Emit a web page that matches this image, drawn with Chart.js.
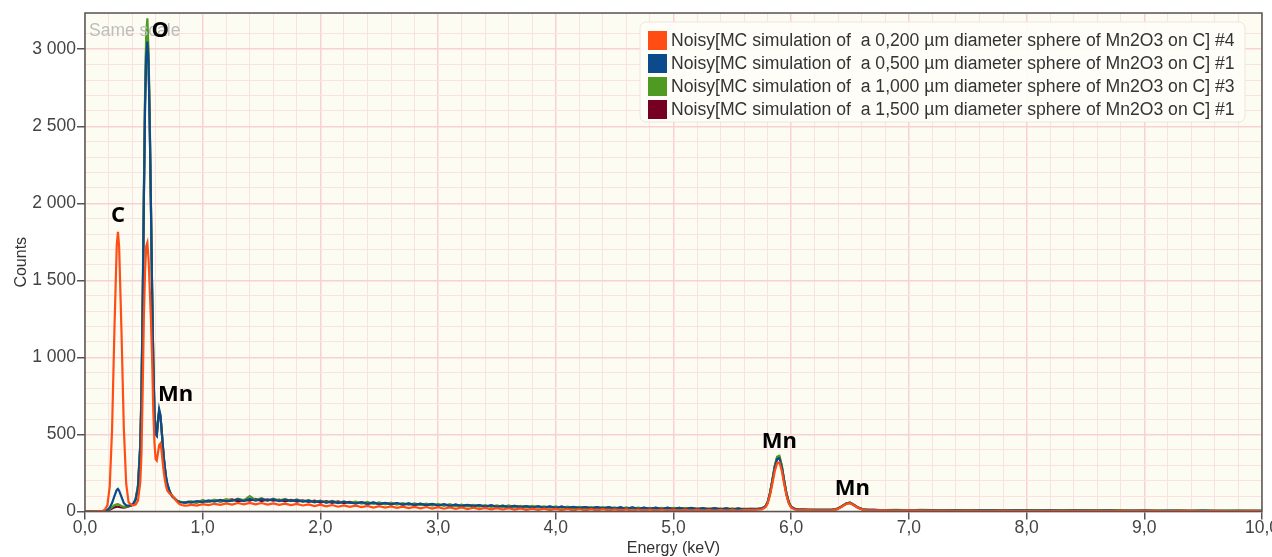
<!DOCTYPE html>
<html>
<head>
<meta charset="utf-8">
<script src="https://cdn.jsdelivr.net/npm/chart.js@4.4.1/dist/chart.umd.min.js"></script>
<style>
  html, body { margin: 0; padding: 0; background: #fff; overflow: hidden; width: 1272px; height: 557px; }
</style>
</head>
<body>
<!-- canvas a bit wider than the window so the "10,0" label is cut at the edge like the original -->
<canvas id="my_graph" width="1279" height="557"></canvas>
<script>
// channel energies (keV), finer around the peaks
const energy = [
  0, 0.05, 0.10, 0.15, 0.17, 0.19, 0.21, 0.23, 0.25, 0.27,
  0.28, 0.29, 0.31, 0.33, 0.35, 0.37, 0.39, 0.41, 0.43, 0.45,
  0.47, 0.48, 0.49, 0.50, 0.51, 0.52, 0.53, 0.54, 0.55, 0.56,
  0.57, 0.58, 0.59, 0.60, 0.61, 0.62, 0.63, 0.64, 0.65, 0.66,
  0.67, 0.68, 0.69, 0.70, 0.72, 0.74, 0.76, 0.78, 0.80, 0.82,
  0.85, 0.88,
  0.90, 0.95, 1.00, 1.05, 1.10, 1.15, 1.20, 1.25, 1.30, 1.35,
  1.40, 1.45, 1.50, 1.55, 1.60, 1.65, 1.70, 1.75, 1.80, 1.85,
  1.90, 1.95, 2.00, 2.05, 2.10, 2.15, 2.20, 2.25, 2.30, 2.35,
  2.40, 2.45, 2.50, 2.55, 2.60, 2.65, 2.70, 2.75, 2.80, 2.85,
  2.90, 2.95, 3.00, 3.05, 3.10, 3.15, 3.20, 3.25, 3.30, 3.35,
  3.40, 3.45, 3.50, 3.55, 3.60, 3.65, 3.70, 3.75, 3.80, 3.85,
  3.90, 3.95, 4.00, 4.05, 4.10, 4.15, 4.20, 4.25, 4.30, 4.35,
  4.40, 4.45, 4.50, 4.55, 4.60, 4.65, 4.70, 4.75, 4.80, 4.85,
  4.90, 4.95, 5.00, 5.05, 5.10, 5.15, 5.20, 5.25, 5.30, 5.35,
  5.40, 5.45, 5.50, 5.55, 5.60,
  5.63, 5.66, 5.69, 5.72, 5.75, 5.78, 5.80, 5.82, 5.84, 5.86, 5.88,
  5.90, 5.92, 5.94, 5.96, 5.98, 6.00, 6.03, 6.06, 6.10, 6.15, 6.20,
  6.25, 6.30, 6.35, 6.39, 6.43, 6.47, 6.50, 6.53, 6.57, 6.61, 6.65, 6.70, 6.75,
  6.8, 6.9, 7.0, 7.1, 7.2, 7.3, 7.4, 7.5, 7.6, 7.7,
  7.8, 7.9, 8.0, 8.1, 8.2, 8.3, 8.4, 8.5, 8.6, 8.7,
  8.8, 8.9, 9.0, 9.1, 9.2, 9.3, 9.4, 9.5, 9.6, 9.7,
  9.8, 9.9, 10.0
];

const counts0200 = [
  0, 0, 2, 5, 12, 40, 160, 530, 1180, 1730,
  1815, 1720, 1170, 540, 180, 60, 45, 40, 45, 70,
  190, 380, 780, 1250, 1550, 1720, 1745, 1640, 1450, 1250,
  1000, 660, 450, 340, 330, 380, 430, 440, 400, 320,
  250, 200, 160, 135, 115, 105, 85, 65, 50, 42,
  38, 40,
  44, 38, 48, 41, 50, 43, 53, 45, 55, 47,
  56, 46, 55, 45, 53, 43, 51, 41, 49, 39,
  46, 35, 44, 33, 42, 31, 40, 30, 38, 29,
  36, 26, 35, 25, 33, 24, 32, 22, 30, 21,
  29, 19, 28, 18, 27, 17, 26, 16, 25, 15,
  23, 14, 22, 13, 21, 12, 20, 11, 19, 11,
  18, 9, 17, 9, 16, 8, 16, 8, 15, 7,
  15, 7, 14, 7, 14, 6, 13, 6, 13, 6,
  13, 6, 12, 5, 12, 5, 12, 5, 11, 5,
  11, 5, 11, 5, 10,
  10, 11, 10, 12, 14, 26, 52, 106, 180, 260, 312,
  318, 265, 180, 104, 52, 25, 13, 10, 9, 9, 8,
  8, 8, 9, 14, 31, 50, 54, 42, 22, 11, 8, 7, 7,
  7, 6, 7, 6, 6, 6, 5, 6, 5, 5,
  6, 5, 5, 4, 5, 5, 4, 5, 4, 4,
  5, 4, 4, 4, 3, 4, 4, 3, 4, 3,
  3, 4, 3
];

const counts0500 = [
  0, 0, 1, 3, 5, 10, 25, 55, 100, 140,
  147, 135, 95, 55, 40, 38, 40, 50, 80, 150,
  420, 750, 1300, 2000, 2600, 2950, 3050, 2900, 2500, 2000,
  1450, 980, 650, 500, 490, 590, 665, 630, 540, 440,
  350, 280, 220, 180, 130, 100, 85, 70, 62, 60,
  58, 62,
  58, 68, 61, 72, 64, 75, 66, 70, 79, 68,
  82, 70, 80, 72, 78, 67, 76, 69, 74, 64,
  71, 60, 68, 57, 66, 55, 63, 58, 52, 61,
  50, 59, 48, 56, 46, 55, 45, 52, 43, 51,
  41, 49, 39, 47, 37, 45, 36, 43, 35, 41,
  32, 40, 31, 38, 29, 37, 28, 35, 27, 34,
  25, 33, 24, 31, 23, 30, 22, 29, 21, 28,
  20, 28, 19, 27, 18, 26, 18, 25, 17, 25,
  16, 25, 16, 24, 15, 23, 15, 22, 14, 22,
  14, 21, 13, 20, 14,
  17, 16, 17, 17, 19, 31, 58, 116, 198, 284, 340,
  345, 288, 198, 114, 58, 29, 17, 13, 12, 11, 11,
  11, 11, 11, 16, 33, 52, 56, 44, 24, 13, 11, 10, 9,
  9, 8, 9, 8, 9, 7, 8, 8, 7, 8,
  7, 7, 8, 6, 7, 6, 7, 6, 6, 7,
  5, 6, 6, 5, 6, 5, 5, 6, 5, 5,
  4, 5, 5
];

const counts1000 = [
  0, 0, 1, 2, 4, 8, 16, 28, 40, 46,
  48, 44, 36, 30, 32, 35, 40, 48, 78, 170,
  450, 800, 1380, 2080, 2700, 3100, 3200, 2980, 2560, 2020,
  1460, 990, 660, 510, 500, 590, 650, 625, 545, 440,
  345, 275, 215, 175, 128, 100, 86, 72, 64, 62,
  60, 64,
  66, 60, 73, 63, 77, 66, 80, 70, 84, 72,
  100, 74, 86, 70, 84, 71, 81, 68, 79, 66,
  74, 62, 71, 58, 69, 56, 66, 54, 64, 52,
  62, 49, 59, 47, 57, 45, 55, 43, 53, 42,
  51, 39, 49, 37, 47, 35, 45, 34, 43, 32,
  42, 30, 40, 29, 39, 27, 37, 26, 36, 25,
  34, 24, 33, 23, 32, 22, 30, 21, 29, 20,
  28, 19, 27, 18, 26, 18, 25, 17, 24, 16,
  24, 16, 23, 15, 22, 15, 21, 14, 21, 14,
  20, 13, 20, 13, 19,
  16, 17, 16, 18, 20, 33, 62, 122, 205, 295, 355,
  362, 300, 205, 118, 60, 30, 18, 14, 12, 12, 11,
  11, 10, 12, 17, 34, 54, 58, 45, 24, 14, 10, 9, 9,
  9, 10, 8, 10, 9, 8, 9, 7, 9, 8,
  7, 8, 7, 8, 6, 7, 7, 6, 7, 6,
  7, 5, 6, 6, 5, 6, 5, 6, 5, 5,
  6, 5, 5
];

const counts1500 = [
  0, 0, 0, 1, 3, 6, 12, 20, 27, 31,
  32, 30, 26, 25, 28, 33, 38, 46, 75, 160,
  430, 770, 1330, 2020, 2640, 3020, 3110, 2930, 2520, 1990,
  1440, 975, 650, 505, 495, 585, 645, 620, 540, 438,
  342, 272, 212, 172, 126, 98, 84, 70, 62, 60,
  58, 61,
  63, 57, 70, 62, 74, 64, 72, 78, 66, 75,
  70, 81, 68, 79, 70, 77, 66, 75, 64, 72,
  62, 70, 58, 67, 56, 65, 54, 62, 53, 59,
  50, 57, 48, 55, 46, 53, 44, 51, 43, 49,
  40, 48, 38, 46, 37, 44, 35, 42, 34, 40,
  31, 39, 30, 37, 29, 36, 27, 34, 26, 33,
  24, 32, 23, 31, 22, 29, 21, 28, 20, 27,
  19, 27, 18, 26, 18, 25, 17, 24, 16, 24,
  16, 23, 15, 23, 15, 22, 14, 21, 14, 21,
  13, 20, 13, 19, 13,
  16, 17, 16, 17, 20, 32, 60, 119, 202, 290, 346,
  352, 294, 200, 116, 59, 29, 18, 13, 12, 11, 10,
  10, 11, 12, 17, 33, 53, 57, 44, 25, 14, 10, 10, 9,
  8, 9, 9, 8, 8, 8, 7, 8, 8, 7,
  7, 8, 6, 7, 7, 6, 6, 7, 6, 6,
  6, 5, 6, 5, 5, 6, 5, 5, 5, 4,
  5, 5, 4
];

const seriesLabels = [
  'Noisy[MC simulation of  a 0,200 µm diameter sphere of Mn2O3 on C] #4',
  'Noisy[MC simulation of  a 0,500 µm diameter sphere of Mn2O3 on C] #1',
  'Noisy[MC simulation of  a 1,000 µm diameter sphere of Mn2O3 on C] #3',
  'Noisy[MC simulation of  a 1,500 µm diameter sphere of Mn2O3 on C] #1'
];
const seriesCounts = [counts0200, counts0500, counts1000, counts1500];
const seriesColors = ['#ff4d14', '#0b4a8b', '#4f9a21', '#760021'];

// element labels placed at (energy, counts)
const peakNames = ['C', 'O', 'Mn', 'Mn', 'Mn'];
const peakEnergy = [0.28, 0.64, 0.77, 5.90, 6.52];
const peakCounts = [1920, 3120, 760, 455, 145];

const isMajorX = v => Math.abs(v - Math.round(v)) < 1e-6;
const isMajorY = v => Math.abs(v % 500) < 1e-6;

const plotBackground = {
  id: 'plotBackground',
  beforeDraw(chart) {
    const { ctx, chartArea: a } = chart;
    ctx.save();
    ctx.fillStyle = '#fdfcf2';
    ctx.fillRect(a.left, a.top, a.right - a.left, a.bottom - a.top);
    ctx.restore();
  }
};

const extras = {
  id: 'extras',
  afterDatasetsDraw(chart) {
    const { ctx, chartArea: a, scales } = chart;
    ctx.save();

    // frame
    ctx.strokeStyle = '#555';
    ctx.lineWidth = 1.5;
    ctx.strokeRect(a.left, a.top, a.right - a.left, a.bottom - a.top);

    // "Same scale"
    ctx.fillStyle = '#bdbdbd';
    ctx.font = '17.5px "Liberation Sans", Arial, sans-serif';
    ctx.textBaseline = 'middle';
    ctx.textAlign = 'left';
    ctx.fillText('Same scale', a.left + 4, a.top + 18);

    // peak names
    ctx.fillStyle = '#000';
    ctx.font = 'bold 22px "Open Sans", sans-serif';
    ctx.textAlign = 'center';
    for (let i = 0; i < peakNames.length; i++) {
      const x = scales.x.getPixelForValue(peakEnergy[i]);
      const y = scales.y.getPixelForValue(peakCounts[i]);
      ctx.fillText(peakNames[i], x, y);
    }

    // legend box
    const bx = 640, by = 22, bw = 605, bh = 100;
    ctx.fillStyle = 'rgba(254,253,248,0.95)';
    ctx.strokeStyle = '#efe4dc';
    ctx.lineWidth = 1;
    ctx.beginPath();
    ctx.roundRect(bx, by, bw, bh, 6);
    ctx.fill();
    ctx.stroke();

    ctx.font = '17.6px "Liberation Sans", Arial, sans-serif';
    ctx.textAlign = 'left';
    chart.data.datasets.forEach((ds, i) => {
      const ry = by + 9 + i * 23;
      ctx.fillStyle = ds.borderColor;
      ctx.fillRect(bx + 8, ry, 19, 19);
      ctx.fillStyle = '#333';
      ctx.fillText(ds.label, bx + 31, ry + 10);
    });

    ctx.restore();
  }
};

const datasets = seriesLabels.map((label, i) => ({
  label: label,
  data: energy.map((e, j) => ({ x: e, y: seriesCounts[i][j] })),
  borderColor: seriesColors[i],
  backgroundColor: seriesColors[i],
  borderWidth: 2.2,
  pointRadius: 0,
  tension: 0,
  fill: false
}));

const tickFont = { family: '"Liberation Sans", Arial, sans-serif', size: 17.5, lineHeight: 1 };

new Chart(document.getElementById('my_graph'), {
  type: 'line',
  data: { datasets },
  options: {
    responsive: false,
    animation: false,
    layout: { padding: { left: 0, top: 13, right: 0, bottom: 0 } },
    plugins: {
      legend: { display: false },
      tooltip: { enabled: false }
    },
    scales: {
      x: {
        type: 'linear',
        min: 0,
        max: 10,
        ticks: {
          stepSize: 0.2,
          autoSkip: false,
          maxRotation: 0,
          padding: 0,
          color: '#444',
          font: tickFont,
          callback: v => isMajorX(v) ? Math.round(v).toFixed(1).replace('.', ',') : ''
        },
        grid: {
          color: c => isMajorX(c.tick.value) ? '#f8d2d2' : '#fbe2e0',
          lineWidth: c => isMajorX(c.tick.value) ? 1.5 : 1,
          tickLength: 8,
          tickColor: c => isMajorX(c.tick.value) ? '#555' : 'rgba(0,0,0,0)',
          tickWidth: 1.5
        },
        border: { display: false },
        title: {
          display: true,
          text: 'Energy (keV)',
          color: '#333',
          padding: { top: 4, bottom: 0 },
          font: { family: '"Liberation Sans", Arial, sans-serif', size: 16, lineHeight: 1 }
        }
      },
      y: {
        min: 0,
        max: 3235,
        ticks: {
          stepSize: 100,
          autoSkip: false,
          padding: 1,
          color: '#444',
          font: tickFont,
          callback: v => {
            if (!isMajorY(v)) return '';
            return v >= 1000 ? Math.floor(v / 1000) + ' ' + String(v % 1000).padStart(3, '0') : String(v);
          }
        },
        grid: {
          color: c => isMajorY(c.tick.value) ? '#f8d2d2' : '#fbe2e0',
          lineWidth: c => isMajorY(c.tick.value) ? 1.5 : 1,
          tickLength: 8,
          tickColor: c => isMajorY(c.tick.value) ? '#555' : 'rgba(0,0,0,0)',
          tickWidth: 1.5
        },
        border: { display: false },
        title: {
          display: true,
          text: 'Counts',
          color: '#333',
          padding: { top: 12, bottom: 0 },
          font: { family: '"Liberation Sans", Arial, sans-serif', size: 16 }
        }
      }
    }
  },
  plugins: [plotBackground, extras]
});
</script>
</body>
</html>
